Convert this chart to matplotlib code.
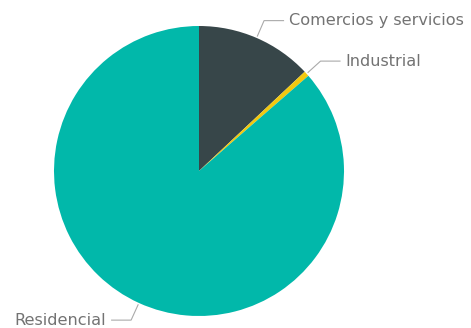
import matplotlib
matplotlib.use("Agg")
import matplotlib.pyplot as plt
import numpy as np

labels = ["Comercios y servicios", "Industrial", "Residencial"]
values = [13.0, 0.6, 86.4]
colors = ["#374649", "#F2C80F", "#01B8AA"]

W, H = 471, 328
fig = plt.figure(figsize=(W / 100, H / 100), dpi=100)
ax = fig.add_axes([0, 0, 1, 1])

cx, cy, R = 199, 157, 145
wedges, _ = ax.pie(values, colors=colors, startangle=90, counterclock=False,
                   center=(cx, cy), radius=R, frame=True,
                   wedgeprops=dict(linewidth=0))
ax.set_xlim(0, W)
ax.set_ylim(0, H)
ax.set_aspect("equal")
ax.axis("off")

font = dict(family=["DejaVu Sans"], size=11.6, color="#737373")
for w, lab in zip(wedges, labels):
    mid = np.deg2rad((w.theta1 + w.theta2) / 2)
    p0 = (cx + R * 1.01 * np.cos(mid), cy + R * 1.01 * np.sin(mid))
    e = (cx + R * 1.13 * np.cos(mid), cy + R * 1.13 * np.sin(mid))
    side = 1 if np.cos(mid) >= 0 else -1
    e2 = (e[0] + side * 20, e[1])
    ax.plot([p0[0], e[0], e2[0]], [p0[1], e[1], e2[1]], color="#aaaaaa", lw=0.8,
            solid_capstyle="butt")
    ax.text(e2[0] + side * 5, e2[1], lab, ha="left" if side > 0 else "right",
            va="center", **font)

fig.savefig("out.png", dpi=100)
